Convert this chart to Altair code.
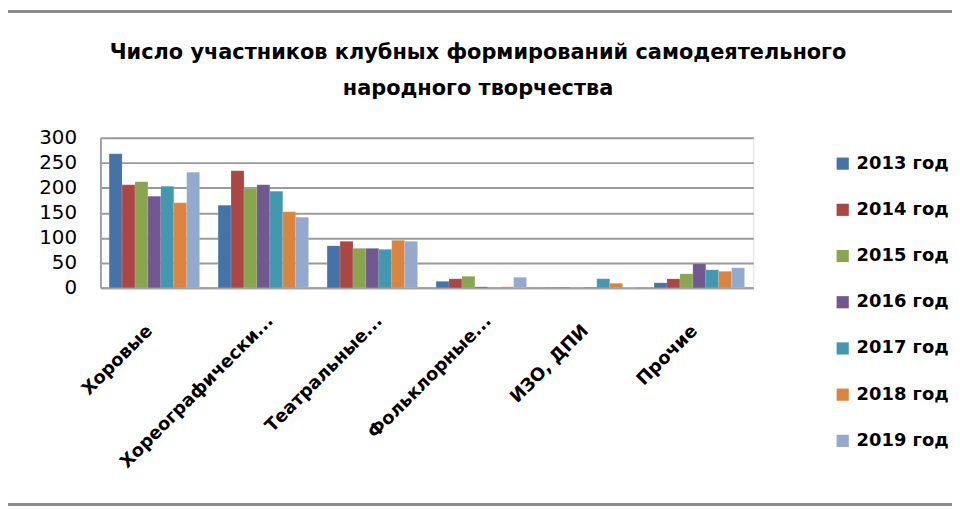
import altair as alt
import pandas as pd

title_lines = ["Число участников клубных формирований самодеятельного", "народного творчества"]
categories = ["Хоровые", "Хореографически...", "Театральные...", "Фольклорные...", "ИЗО, ДПИ", "Прочие"]
years = ["2013 год", "2014 год", "2015 год", "2016 год", "2017 год", "2018 год", "2019 год"]
v2013 = [268, 165, 84, 13, 1, 10]
v2014 = [206, 234, 93, 18, 1, 18]
v2015 = [212, 198, 79, 23, 1, 28]
v2016 = [183, 206, 79, 2, 1, 48]
v2017 = [203, 193, 77, 1, 18, 36]
v2018 = [170, 152, 95, 2, 9, 33]
v2019 = [231, 141, 93, 21, 0, 40]
colors = ["#4572A7", "#AA4643", "#89A54E", "#71588F", "#4198AF", "#DB843D", "#93A9CF"]

series = [v2013, v2014, v2015, v2016, v2017, v2018, v2019]
rows = []
for y, vals in zip(years, series):
    for c, v in zip(categories, vals):
        rows.append({"cat": c, "year": y, "value": v})
df = pd.DataFrame(rows)
one = pd.DataFrame({"k": [0]})

FONT = "DejaVu Sans"
W, H = 657, 151

bars = alt.Chart(df).mark_bar(stroke="#ffffff", strokeWidth=0.3, strokeOpacity=0.4).encode(
    x=alt.X("cat:N", sort=categories, title=None,
            scale=alt.Scale(paddingInner=0.17, paddingOuter=0.08),
            axis=alt.Axis(labelAngle=-45, labelFont=FONT, labelFontSize=18, labelFontWeight="bold",
                          labelColor="#000000", ticks=False,
                          labelPadding=alt.ExprRef("indexof(datum.label, '...') >= 0 ? 24 : 34"),
                          labelOffset=alt.ExprRef("indexof(datum.label, '...') >= 0 ? 1 : -11"),
                          domainColor="#a0a0a0", domainWidth=2, labelLimit=300)),
    xOffset=alt.XOffset("year:N", sort=years, scale=alt.Scale(paddingInner=0, paddingOuter=0)),
    y=alt.Y("value:Q", title=None,
            scale=alt.Scale(domain=[0, 300]),
            axis=alt.Axis(values=[0, 50, 100, 150, 200, 250, 300], labelFont=FONT, labelFontSize=20,
                          labelColor="#000000", ticks=False, labelPadding=24, gridColor="#9a9a9a",
                          gridWidth=2, domainColor="#a0a0a0", domainWidth=2)),
    color=alt.Color("year:N", sort=years, scale=alt.Scale(domain=years, range=colors),
                    legend=alt.Legend(title=None, orient="none", legendX=738, legendY=17,
                                      symbolType="square", symbolSize=150, symbolStrokeWidth=0,
                                      labelFont=FONT, labelFontSize=18, labelFontWeight="bold",
                                      labelColor="#000000", rowPadding=28.5, symbolOffset=0,
                                      labelOffset=5)),
)

title1 = alt.Chart(one).mark_text(font=FONT, fontSize=21, fontWeight="bold", color="#000000",
                                  align="center", baseline="middle").encode(
    x=alt.value(380), y=alt.value(-85), text=alt.value(title_lines[0])
)
title2 = alt.Chart(one).mark_text(font=FONT, fontSize=21, fontWeight="bold", color="#000000",
                                  align="center", baseline="middle").encode(
    x=alt.value(380), y=alt.value(-49), text=alt.value(title_lines[1])
)

border_top = alt.Chart(one).mark_rule(color="#8c8c8c", strokeWidth=3).encode(
    x=alt.value(-101), x2=alt.value(860), y=alt.value(-127)
)
border_bottom = alt.Chart(one).mark_rule(color="#8c8c8c", strokeWidth=3).encode(
    x=alt.value(-101), x2=alt.value(860), y=alt.value(369)
)

chart = alt.layer(bars, title1, title2, border_top, border_bottom).properties(
    width=W, height=H,
    autosize=alt.AutoSizeParams(type="none"),
    padding={"left": 93, "top": 129, "right": 200, "bottom": 226},
).configure_view(stroke=None).configure(background="#ffffff")

chart.save("out.html", embed_options={"renderer": "svg", "actions": False})
